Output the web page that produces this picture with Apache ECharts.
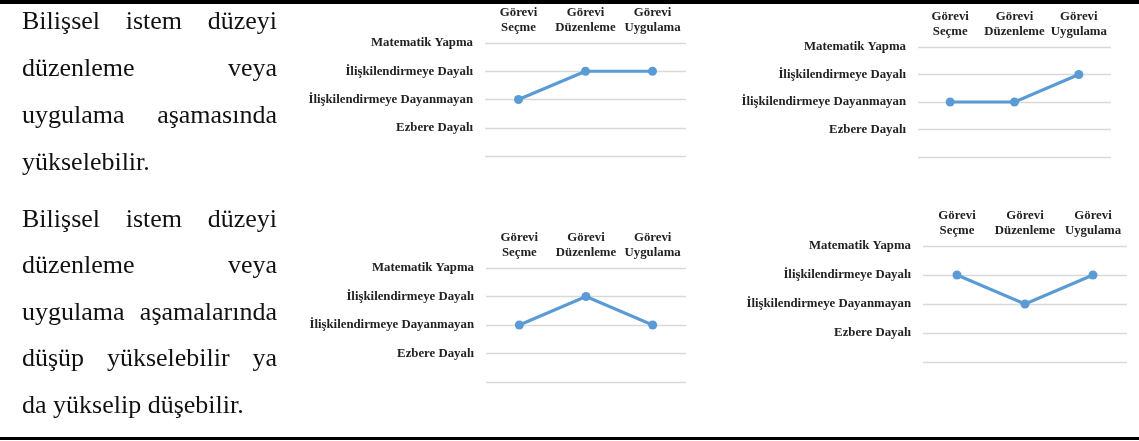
<!DOCTYPE html>
<html>
<head>
<meta charset="utf-8">
<script src="https://cdn.jsdelivr.net/npm/echarts@6/dist/echarts.min.js"></script>
<style>
  html, body { margin: 0; padding: 0; background: #fff; }
  #page { position: relative; width: 1139px; height: 441px; overflow: hidden; background: #fff; }
  #chart { position: absolute; left: 0; top: 0; width: 1139px; height: 441px; }
  .rule { position: absolute; left: 0; width: 1139px; background: #000; }
  .txt { position: absolute; left: 22px; width: 255px; height: 47px; line-height: 47px;
         font-family: "Liberation Serif", "Times New Roman", serif; font-size: 26px; color: #111;
         text-align: justify; text-align-last: justify; white-space: normal; }
  .txt.last { text-align: left; text-align-last: left; }
</style>
</head>
<body>
<div id="page">
  <div class="rule" style="top:0;height:4px"></div>
  <div class="rule" style="top:437px;height:3px"></div>
  <div id="chart"></div>
</div>
<script>
// ---- data ----
const categories = ['Görevi\nSeçme', 'Görevi\nDüzenleme', 'Görevi\nUygulama'];
const levelLabels = ['', 'Ezbere Dayalı', 'İlişkilendirmeye Dayanmayan', 'İlişkilendirmeye Dayalı', 'Matematik Yapma'];
const chart1Values = [2, 3, 3];
const chart2Values = [2, 2, 3];
const chart3Values = [2, 3, 2];
const chart4Values = [3, 2, 3];
const text1Lines = ['Bilişsel istem düzeyi', 'düzenleme veya', 'uygulama aşamasında', 'yükselebilir.'];
const text2Lines = ['Bilişsel istem düzeyi', 'düzenleme veya', 'uygulama aşamalarında', 'düşüp yükselebilir ya', 'da yükselip düşebilir.'];

// ---- left column text ----
const page = document.getElementById('page');
function addLines(lines, firstBaseline, step) {
  lines.forEach((t, i) => {
    const d = document.createElement('div');
    d.className = 'txt' + (i === lines.length - 1 ? ' last' : '');
    d.style.top = (firstBaseline + i * step - 32.3) + 'px';
    d.textContent = t;
    page.appendChild(d);
  });
}
addLines(text1Lines, 29, 47);
addLines(text2Lines, 227, 46.5);

// ---- charts ----
const grids = [
  { left: 485, top: 43, width: 201, height: 113 },
  { left: 918, top: 47, width: 193, height: 110 },
  { left: 486, top: 268, width: 200, height: 114 },
  { left: 923, top: 246, width: 204, height: 116 }
];
const seriesValues = [chart1Values, chart2Values, chart3Values, chart4Values];
const labelFont = { fontFamily: '"Liberation Serif", "Times New Roman", serif', fontWeight: 'bold', fontSize: 12.8, color: '#222' };
const blue = '#5B9BD5';

const option = {
  animation: false,
  grid: grids,
  xAxis: grids.map((g, i) => ({
    type: 'category', gridIndex: i, position: 'top', data: categories, boundaryGap: true,
    axisLine: { show: false }, axisTick: { show: false }, splitLine: { show: false },
    axisLabel: Object.assign({ interval: 0, margin: 8, lineHeight: 15, align: 'center' }, labelFont)
  })),
  yAxis: grids.map((g, i) => ({
    type: 'value', gridIndex: i, min: 0, max: 4, interval: 1,
    axisLine: { show: false }, axisTick: { show: false },
    splitLine: { show: true, lineStyle: { color: '#D9D9D9', width: 1.3 } },
    axisLabel: Object.assign({ margin: 12, formatter: v => levelLabels[v] || '' }, labelFont)
  })),
  series: seriesValues.map((vals, i) => ({
    type: 'line', xAxisIndex: i, yAxisIndex: i, data: vals,
    symbol: 'circle', symbolSize: 9, showSymbol: true,
    lineStyle: { color: blue, width: 3 }, itemStyle: { color: blue }
  }))
};
const chart = echarts.init(document.getElementById('chart'), null, { renderer: 'canvas' });
chart.setOption(option);
</script>
</body>
</html>
